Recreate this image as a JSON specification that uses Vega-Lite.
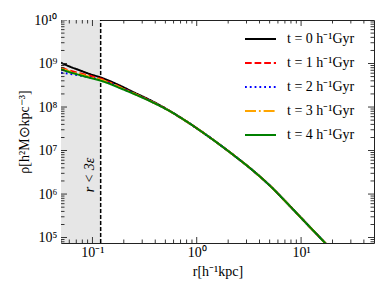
{
  "$schema": "https://vega.github.io/schema/vega-lite/v6.json",
  "width": 313,
  "height": 223,
  "autosize": {"type": "none"},
  "padding": {"left": 61, "top": 20, "right": 16, "bottom": 50},
  "config": {
    "view": {"stroke": "#222", "strokeWidth": 1},
    "font": "Liberation Serif",
    "axis": {
      "grid": false,
      "domain": false,
      "ticks": false,
      "labelFont": "Liberation Serif",
      "labelFontSize": 14,
      "labelColor": "black",
      "titleFont": "Liberation Serif",
      "titleFontSize": 14,
      "titleFontWeight": "normal",
      "titleColor": "black"
    }
  },
  "datasets": {
    "profiles": [
      {"t": 0, "r": 0.05, "rho": 1.043e9},
      {"t": 0, "r": 0.0605, "rho": 8.53e8},
      {"t": 0, "r": 0.0755, "rho": 6.98e8},
      {"t": 0, "r": 0.0942, "rho": 5.74e8},
      {"t": 0, "r": 0.12, "rho": 4.77e8},
      {"t": 0, "r": 0.1467, "rho": 3.96e8},
      {"t": 0, "r": 0.183, "rho": 3.12e8},
      {"t": 0, "r": 0.2457, "rho": 2.21e8},
      {"t": 0, "r": 0.3556, "rho": 1.45e8},
      {"t": 0, "r": 0.5146, "rho": 9.0e7},
      {"t": 0, "r": 0.7433, "rho": 5.21e7},
      {"t": 0, "r": 1.076, "rho": 2.88e7},
      {"t": 0, "r": 1.557, "rho": 1.53e7},
      {"t": 0, "r": 2.249, "rho": 7.88e6},
      {"t": 0, "r": 3.502, "rho": 3.38e6},
      {"t": 0, "r": 5.068, "rho": 1.53e6},
      {"t": 0, "r": 7.334, "rho": 6.21e5},
      {"t": 0, "r": 10.59, "rho": 2.46e5},
      {"t": 0, "r": 15.33, "rho": 9.75e4},
      {"t": 0, "r": 21.37, "rho": 4.18e4},

      {"t": 1, "r": 0.05, "rho": 7.96e8},
      {"t": 1, "r": 0.0605, "rho": 6.9e8},
      {"t": 1, "r": 0.0755, "rho": 5.98e8},
      {"t": 1, "r": 0.0942, "rho": 5.21e8},
      {"t": 1, "r": 0.12, "rho": 4.45e8},
      {"t": 1, "r": 0.1467, "rho": 3.7e8},
      {"t": 1, "r": 0.183, "rho": 2.91e8},
      {"t": 1, "r": 0.2457, "rho": 2.1e8},
      {"t": 1, "r": 0.3556, "rho": 1.4e8},
      {"t": 1, "r": 0.5146, "rho": 8.85e7},
      {"t": 1, "r": 0.7433, "rho": 5.21e7},
      {"t": 1, "r": 1.076, "rho": 2.88e7},
      {"t": 1, "r": 1.557, "rho": 1.53e7},
      {"t": 1, "r": 2.249, "rho": 7.88e6},
      {"t": 1, "r": 3.502, "rho": 3.38e6},
      {"t": 1, "r": 5.068, "rho": 1.53e6},
      {"t": 1, "r": 7.334, "rho": 6.21e5},
      {"t": 1, "r": 10.59, "rho": 2.46e5},
      {"t": 1, "r": 15.33, "rho": 9.75e4},
      {"t": 1, "r": 21.37, "rho": 4.18e4},

      {"t": 2, "r": 0.05, "rho": 6.15e8},
      {"t": 2, "r": 0.0605, "rho": 5.8e8},
      {"t": 2, "r": 0.0755, "rho": 5.3e8},
      {"t": 2, "r": 0.0942, "rho": 4.77e8},
      {"t": 2, "r": 0.12, "rho": 4.18e8},
      {"t": 2, "r": 0.1467, "rho": 3.52e8},
      {"t": 2, "r": 0.183, "rho": 2.8e8},
      {"t": 2, "r": 0.2457, "rho": 2.07e8},
      {"t": 2, "r": 0.3556, "rho": 1.39e8},
      {"t": 2, "r": 0.5146, "rho": 8.85e7},
      {"t": 2, "r": 0.7433, "rho": 5.21e7},
      {"t": 2, "r": 1.076, "rho": 2.88e7},
      {"t": 2, "r": 1.557, "rho": 1.53e7},
      {"t": 2, "r": 2.249, "rho": 7.88e6},
      {"t": 2, "r": 3.502, "rho": 3.38e6},
      {"t": 2, "r": 5.068, "rho": 1.53e6},
      {"t": 2, "r": 7.334, "rho": 6.21e5},
      {"t": 2, "r": 10.59, "rho": 2.46e5},
      {"t": 2, "r": 15.33, "rho": 9.75e4},
      {"t": 2, "r": 21.37, "rho": 4.18e4},

      {"t": 3, "r": 0.05, "rho": 7.55e8},
      {"t": 3, "r": 0.0605, "rho": 6.55e8},
      {"t": 3, "r": 0.0755, "rho": 5.68e8},
      {"t": 3, "r": 0.0942, "rho": 4.94e8},
      {"t": 3, "r": 0.12, "rho": 4.22e8},
      {"t": 3, "r": 0.1467, "rho": 3.56e8},
      {"t": 3, "r": 0.183, "rho": 2.84e8},
      {"t": 3, "r": 0.2457, "rho": 2.07e8},
      {"t": 3, "r": 0.3556, "rho": 1.39e8},
      {"t": 3, "r": 0.5146, "rho": 8.85e7},
      {"t": 3, "r": 0.7433, "rho": 5.21e7},
      {"t": 3, "r": 1.076, "rho": 2.88e7},
      {"t": 3, "r": 1.557, "rho": 1.53e7},
      {"t": 3, "r": 2.249, "rho": 7.88e6},
      {"t": 3, "r": 3.502, "rho": 3.38e6},
      {"t": 3, "r": 5.068, "rho": 1.53e6},
      {"t": 3, "r": 7.334, "rho": 6.21e5},
      {"t": 3, "r": 10.59, "rho": 2.46e5},
      {"t": 3, "r": 15.33, "rho": 9.75e4},
      {"t": 3, "r": 21.37, "rho": 4.18e4},

      {"t": 4, "r": 0.05, "rho": 7.36e8},
      {"t": 4, "r": 0.0605, "rho": 6.31e8},
      {"t": 4, "r": 0.0755, "rho": 5.44e8},
      {"t": 4, "r": 0.0942, "rho": 4.69e8},
      {"t": 4, "r": 0.12, "rho": 4.03e8},
      {"t": 4, "r": 0.1467, "rho": 3.41e8},
      {"t": 4, "r": 0.183, "rho": 2.735e8},
      {"t": 4, "r": 0.2457, "rho": 2.04e8},
      {"t": 4, "r": 0.3556, "rho": 1.37e8},
      {"t": 4, "r": 0.5146, "rho": 8.8e7},
      {"t": 4, "r": 0.7433, "rho": 5.21e7},
      {"t": 4, "r": 1.076, "rho": 2.88e7},
      {"t": 4, "r": 1.557, "rho": 1.53e7},
      {"t": 4, "r": 2.249, "rho": 7.88e6},
      {"t": 4, "r": 3.502, "rho": 3.38e6},
      {"t": 4, "r": 5.068, "rho": 1.53e6},
      {"t": 4, "r": 7.334, "rho": 6.21e5},
      {"t": 4, "r": 10.59, "rho": 2.46e5},
      {"t": 4, "r": 15.33, "rho": 9.75e4},
      {"t": 4, "r": 21.37, "rho": 4.18e4}
    ],
    "region": [
      {"r0": 0.05, "r1": 0.12, "rho0": 7.5e4, "rho1": 1e10, "label": "r < 3ε", "rl": 0.0942, "rhol": 2.74e6}
    ],
    "xticks": [
      {"v": 0.05, "kind": "minor"}, {"v": 0.06, "kind": "minor"}, {"v": 0.07, "kind": "minor"}, {"v": 0.08, "kind": "minor"}, {"v": 0.09, "kind": "minor"},
      {"v": 0.1, "kind": "major"},
      {"v": 0.2, "kind": "minor"}, {"v": 0.3, "kind": "minor"}, {"v": 0.4, "kind": "minor"}, {"v": 0.5, "kind": "minor"}, {"v": 0.6, "kind": "minor"}, {"v": 0.7, "kind": "minor"}, {"v": 0.8, "kind": "minor"}, {"v": 0.9, "kind": "minor"},
      {"v": 1, "kind": "major"},
      {"v": 2, "kind": "minor"}, {"v": 3, "kind": "minor"}, {"v": 4, "kind": "minor"}, {"v": 5, "kind": "minor"}, {"v": 6, "kind": "minor"}, {"v": 7, "kind": "minor"}, {"v": 8, "kind": "minor"}, {"v": 9, "kind": "minor"},
      {"v": 10, "kind": "major"},
      {"v": 20, "kind": "minor"}, {"v": 30, "kind": "minor"}, {"v": 40, "kind": "minor"}
    ],
    "yticks": [
      {"v": 8e4, "kind": "minor"}, {"v": 9e4, "kind": "minor"}, {"v": 1e5, "kind": "major"},
      {"v": 2e5, "kind": "minor"}, {"v": 3e5, "kind": "minor"}, {"v": 4e5, "kind": "minor"}, {"v": 5e5, "kind": "minor"}, {"v": 6e5, "kind": "minor"}, {"v": 7e5, "kind": "minor"}, {"v": 8e5, "kind": "minor"}, {"v": 9e5, "kind": "minor"}, {"v": 1e6, "kind": "major"},
      {"v": 2e6, "kind": "minor"}, {"v": 3e6, "kind": "minor"}, {"v": 4e6, "kind": "minor"}, {"v": 5e6, "kind": "minor"}, {"v": 6e6, "kind": "minor"}, {"v": 7e6, "kind": "minor"}, {"v": 8e6, "kind": "minor"}, {"v": 9e6, "kind": "minor"}, {"v": 1e7, "kind": "major"},
      {"v": 2e7, "kind": "minor"}, {"v": 3e7, "kind": "minor"}, {"v": 4e7, "kind": "minor"}, {"v": 5e7, "kind": "minor"}, {"v": 6e7, "kind": "minor"}, {"v": 7e7, "kind": "minor"}, {"v": 8e7, "kind": "minor"}, {"v": 9e7, "kind": "minor"}, {"v": 1e8, "kind": "major"},
      {"v": 2e8, "kind": "minor"}, {"v": 3e8, "kind": "minor"}, {"v": 4e8, "kind": "minor"}, {"v": 5e8, "kind": "minor"}, {"v": 6e8, "kind": "minor"}, {"v": 7e8, "kind": "minor"}, {"v": 8e8, "kind": "minor"}, {"v": 9e8, "kind": "minor"}, {"v": 1e9, "kind": "major"},
      {"v": 2e9, "kind": "minor"}, {"v": 3e9, "kind": "minor"}, {"v": 4e9, "kind": "minor"}, {"v": 5e9, "kind": "minor"}, {"v": 6e9, "kind": "minor"}, {"v": 7e9, "kind": "minor"}, {"v": 8e9, "kind": "minor"}, {"v": 9e9, "kind": "minor"}, {"v": 1e10, "kind": "major"}
    ]
  },
  "layer": [
    {
      "data": {"name": "region"},
      "mark": {"type": "rect", "color": "#e6e6e6"},
      "encoding": {
        "x": {"field": "r0", "type": "quantitative",
          "scale": {"type": "log", "domain": [0.05, 50], "nice": false}, "axis": null},
        "x2": {"field": "r1"},
        "y": {"field": "rho0", "type": "quantitative",
          "scale": {"type": "log", "domain": [7.5e4, 1e10], "nice": false}, "axis": null},
        "y2": {"field": "rho1"}
      }
    },
    {
      "data": {"name": "region"},
      "mark": {"type": "rule", "color": "black", "strokeWidth": 1.5, "strokeDash": [4, 2]},
      "encoding": {
        "x": {"field": "r1", "type": "quantitative", "axis": null},
        "y": {"field": "rho0", "type": "quantitative", "axis": null},
        "y2": {"field": "rho1"}
      }
    },
    {
      "data": {"name": "profiles"},
      "mark": {"type": "line", "strokeWidth": 2, "clip": true, "interpolate": "monotone"},
      "encoding": {
        "x": {"field": "r", "type": "quantitative",
          "axis": {
            "orient": "bottom",
            "values": [0.1, 1, 10],
            "labelExpr": "datum.value == 0.1 ? '10⁻¹' : datum.value == 1 ? '10⁰' : '10¹'",
            "labelPadding": 2,
            "title": "r[h⁻¹kpc]",
            "titlePadding": 5
          }
        },
        "y": {"field": "rho", "type": "quantitative",
          "axis": {
            "orient": "left",
            "values": [1e5, 1e6, 1e7, 1e8, 1e9, 1e10],
            "labelExpr": "datum.value == 1e5 ? '10⁵' : datum.value == 1e6 ? '10⁶' : datum.value == 1e7 ? '10⁷' : datum.value == 1e8 ? '10⁸' : datum.value == 1e9 ? '10⁹' : '10¹⁰'",
            "labelPadding": 4,
            "title": "ρ[h²M⊙kpc⁻³]",
            "titlePadding": 2
          }
        },
        "color": {"field": "t", "type": "nominal",
          "scale": {"domain": [0, 1, 2, 3, 4], "range": ["#000000", "#ff0000", "#0000ff", "#ffa500", "#008000"]},
          "legend": {
            "title": null,
            "orient": "none",
            "legendX": 183,
            "legendY": 2.5,
            "padding": 0,
            "symbolType": "stroke",
            "symbolSize": 961,
            "symbolStrokeWidth": 2,
            "rowPadding": -9,
            "labelOffset": 10,
            "labelFont": "Liberation Serif",
            "labelFontSize": 14,
            "labelColor": "black",
            "labelExpr": "'t = ' + datum.label + ' h⁻¹Gyr'"
          }
        },
        "strokeDash": {"field": "t", "type": "nominal",
          "scale": {"domain": [0, 1, 2, 3, 4], "range": [[1, 0], [6.7, 2.9], [1.8, 3], [11, 2.9, 1.8, 2.9], [1, 0]]},
          "legend": {
            "title": null,
            "orient": "none",
            "legendX": 183,
            "legendY": 2.5,
            "padding": 0,
            "symbolType": "stroke",
            "symbolSize": 961,
            "symbolStrokeWidth": 2,
            "rowPadding": -9,
            "labelOffset": 10,
            "labelFont": "Liberation Serif",
            "labelFontSize": 14,
            "labelColor": "black",
            "labelExpr": "'t = ' + datum.label + ' h⁻¹Gyr'"
          }
        }
      }
    },
    {
      "data": {"name": "region"},
      "mark": {"type": "text", "angle": 270, "font": "Liberation Serif", "fontSize": 14, "fontStyle": "italic", "color": "black", "align": "center", "baseline": "middle"},
      "encoding": {
        "x": {"field": "rl", "type": "quantitative", "axis": null},
        "y": {"field": "rhol", "type": "quantitative", "axis": null},
        "text": {"field": "label"}
      }
    },
    {
      "data": {"name": "xticks"},
      "mark": {"type": "tick", "orient": "vertical", "color": "#222", "thickness": 0.9, "clip": true, "opacity": 1},
      "encoding": {
        "x": {"field": "v", "type": "quantitative", "axis": null},
        "y": {"datum": 75000, "type": "quantitative", "axis": null},
        "size": {"field": "kind", "type": "nominal", "scale": {"domain": ["major", "minor"], "range": [12, 7]}, "legend": null}
      }
    },
    {
      "data": {"name": "xticks"},
      "mark": {"type": "tick", "orient": "vertical", "color": "#222", "thickness": 0.9, "clip": true, "opacity": 1},
      "encoding": {
        "x": {"field": "v", "type": "quantitative", "axis": null},
        "y": {"datum": 10000000000, "type": "quantitative", "axis": null},
        "size": {"field": "kind", "type": "nominal", "scale": {"domain": ["major", "minor"], "range": [12, 7]}, "legend": null}
      }
    },
    {
      "data": {"name": "yticks"},
      "mark": {"type": "tick", "orient": "horizontal", "color": "#222", "thickness": 0.9, "clip": true, "opacity": 1},
      "encoding": {
        "y": {"field": "v", "type": "quantitative", "axis": null},
        "x": {"datum": 0.05, "type": "quantitative", "axis": null},
        "size": {"field": "kind", "type": "nominal", "scale": {"domain": ["major", "minor"], "range": [12, 7]}, "legend": null}
      }
    },
    {
      "data": {"name": "yticks"},
      "mark": {"type": "tick", "orient": "horizontal", "color": "#222", "thickness": 0.9, "clip": true, "opacity": 1},
      "encoding": {
        "y": {"field": "v", "type": "quantitative", "axis": null},
        "x": {"datum": 50, "type": "quantitative", "axis": null},
        "size": {"field": "kind", "type": "nominal", "scale": {"domain": ["major", "minor"], "range": [12, 7]}, "legend": null}
      }
    }
  ],
  "resolve": {"axis": {"x": "independent", "y": "independent"}}
}
